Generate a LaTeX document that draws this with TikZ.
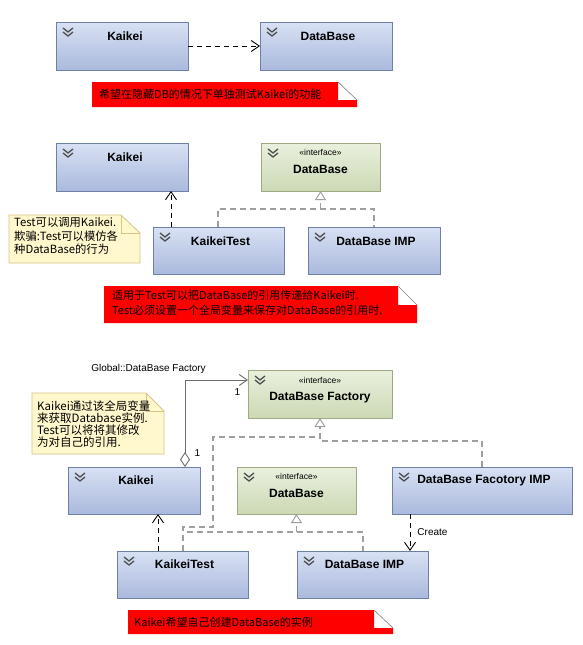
\documentclass[tikz,border=0pt]{standalone}
\usepackage{fontspec}
\setmainfont{Liberation Sans}
\newfontfamily\cjk{Noto Sans CJK SC}
\usetikzlibrary{arrows.meta,calc}
\definecolor{bluetop}{RGB}{216,225,244}
\definecolor{bluebot}{RGB}{170,185,220}
\definecolor{blueline}{RGB}{110,128,166}
\definecolor{greentop}{RGB}{233,240,222}
\definecolor{greenbot}{RGB}{204,217,180}
\definecolor{greenline}{RGB}{160,170,130}
\definecolor{notey}{RGB}{255,248,204}
\definecolor{noteline}{RGB}{214,196,136}
\definecolor{realgray}{RGB}{158,158,158}
\definecolor{chevc}{RGB}{78,78,78}
\definecolor{assocc}{RGB}{110,110,110}
\tikzset{
  clsbox/.style={rectangle, inner sep=0pt, outer sep=0pt, draw=blueline, line width=0.9pt, top color=bluetop, bottom color=bluebot},
  ifbox/.style={clsbox, draw=greenline, top color=greentop, bottom color=greenbot},
  clsname/.style={font=\bfseries\fontsize{12}{14}\selectfont, inner sep=0pt},
  stereo/.style={font=\fontsize{8.5}{10}\selectfont, inner sep=0pt},
  chevron/.style={draw=chevc, line width=1.3pt},
  notetext/.style={font=\cjk\fontsize{11}{13}\selectfont, inner sep=0pt, align=left},
  smalltext/.style={font=\fontsize{10}{12}\selectfont, inner sep=0pt},
  dep/.style={draw=black, line width=0.9pt, dash pattern=on 5pt off 4pt, -{Straight Barb[length=8pt,width=11pt,line width=0.9pt]}},
  real/.style={draw=realgray, line width=1.3pt, dash pattern=on 6pt off 4pt},
  realtri/.style={real, -{Triangle[open,length=9pt,width=11pt,line width=0.9pt,fill=white]}},
  assoc/.style={draw=assocc, line width=0.9pt, {Diamond[open,length=15pt,width=10pt,line width=0.9pt,fill=white]}-{Straight Barb[length=8pt,width=11pt,line width=0.9pt]}},
  rednote/.style={fill=red},
  yelnote/.style={fill=notey, draw=noteline, line width=0.8pt},
}
\newcommand\umlbox[6]{%
  \pgfmathsetmacro\ucx{(#3+#5)/2}%
  \pgfmathsetmacro\ucy{(#4+#6)/2}%
  \pgfmathsetmacro\ubw{#5-#3}%
  \pgfmathsetmacro\ubh{#6-#4}%
  \node[#1, minimum width=\ubw pt, minimum height=\ubh pt] (#2) at (\ucx,\ucy) {};
  \draw[chevron] ($(#2.north west)+(7,6)$) -- ++(5,4) -- ++(5,-4);
  \draw[chevron] ($(#2.north west)+(7,10)$) -- ++(5,4) -- ++(5,-4);
}
\begin{document}
\begin{tikzpicture}[x=1pt,y=-1pt]
\useasboundingbox (0,0) rectangle (582,645);
\fill[white] (0,0) rectangle (582,645);

% ---------------- diagram 1
\umlbox{clsbox}{k1}{56}{22}{188}{70}
\node[clsname] (k1t) at ($(k1.north)+(3,14.5)$) {Kaikei};
\umlbox{clsbox}{db1}{260}{22}{392}{70}
\node[clsname] (db1t) at ($(db1.north)+(2,14.5)$) {DataBase};
\draw[dep] (k1.east) -- (db1.west);

\fill[rednote] (92,82) -- (338,82) -- (338,100) -- (357,100) -- (357,107) -- (92,107) -- cycle;
\draw[gray, line width=0.6pt] (338,82) -- (357,100);
\node[notetext, anchor=west] (n1) at (99,94.5) {希望在隐藏DB的情况下单独测试Kaikei的功能};

% ---------------- diagram 2
\umlbox{clsbox}{k2}{56}{143}{188}{191}
\node[clsname] (k2t) at ($(k2.north)+(3,14)$) {Kaikei};
\umlbox{ifbox}{db2}{261}{143}{380}{191}
\node[stereo] (db2s) at ($(db2.north)+(0,9.5)$) {«interface»};
\node[clsname] (db2t) at ($(db2.north)+(0,26.5)$) {DataBase};
\umlbox{clsbox}{kt2}{153}{227}{284}{274}
\node[clsname] (kt2t) at ($(kt2.north)+(2,14)$) {KaikeiTest};
\umlbox{clsbox}{dbi2}{308}{227}{440}{274}
\node[clsname] (dbi2t) at ($(dbi2.north)+(2,14)$) {DataBase IMP};

\draw[dep] ($(kt2.north west)+(18,0)$) -- ($(k2.south west)+(115,0)$);
\draw[real] ($(kt2.north west)+(65,0)$) -- ++(0,-18) -| ($(dbi2.north west)+(66,0)$);
\draw[realtri] ($(db2.south)+(0,18)$) -- (db2.south);

\fill[yelnote] (9,215) -- (121,215) -- (140,233) -- (140,263) -- (9,263) -- cycle;
\draw[noteline, line width=0.8pt] (121,215) -- (121,233) -- (140,233);
\node[notetext, anchor=north west, font=\cjk\fontsize{11.3}{13.5}\selectfont] (n2) at (14,217.5) {Test可以调用Kaikei.\\欺骗:Test可以模仿各\\种DataBase的行为};

\fill[rednote] (104,286) -- (398,286) -- (398,305) -- (417,305) -- (417,323) -- (104,323) -- cycle;
\draw[gray, line width=0.6pt] (398,286) -- (417,305);
\node[notetext, anchor=north west, font=\cjk\fontsize{11}{15}\selectfont] (n3) at (112,290) {适用于Test可以把DataBase的引用传递给Kaikei时.\\Test必须设置一个全局变量来保存对DataBase的引用时.};

% ---------------- diagram 3
\umlbox{ifbox}{dbf}{248}{370}{392}{418}
\node[stereo] (dbfs) at ($(dbf.north)+(0,10)$) {«interface»};
\node[clsname] (dbft) at ($(dbf.north)+(0,27.5)$) {DataBase Factory};
\umlbox{clsbox}{k3}{68}{467}{200}{514}
\node[clsname] (k3t) at ($(k3.north)+(2,13.5)$) {Kaikei};
\umlbox{ifbox}{db3}{237}{467}{356}{514}
\node[stereo] (db3s) at ($(db3.north)+(0,9.5)$) {«interface»};
\node[clsname] (db3t) at ($(db3.north)+(0,26.5)$) {DataBase};
\umlbox{clsbox}{dbfi}{392}{467}{572}{514}
\node[clsname] (dbfit) at ($(dbfi.north)+(2,13.5)$) {DataBase Facotory IMP};
\umlbox{clsbox}{kt3}{117}{551}{248}{598}
\node[clsname] (kt3t) at ($(kt3.north)+(2,13.5)$) {KaikeiTest};
\umlbox{clsbox}{dbi3}{297}{551}{428}{598}
\node[clsname] (dbi3t) at ($(dbi3.north)+(2,13.5)$) {DataBase IMP};

\draw[assoc] ($(k3.north west)+(117,0)$) |- ($(dbf.north west)+(0,10)$);
\node[smalltext] (glob) at (148.5,369) {Global::DataBase Factory};
\node[smalltext] (m1) at (237.5,392) {1};
\node[smalltext] (m2) at (197.5,453) {1};

\draw[dep] ($(kt3.north west)+(41,0)$) -- ($(k3.south west)+(90,0)$);
\draw[real] ($(kt3.north west)+(66,0)$) -- ++(0,-24) -- ++(30,0) |- ($(dbf.south)+(0,19)$);
\draw[realtri] ($(dbfi.north west)+(90,0)$) |- ($(dbf.south)+(0,23)$) -- (dbf.south);
\draw[real] ($(kt3.north west)+(70,-19)$) -- ($(dbi3.north west)+(66,-19)$) -- ($(dbi3.north west)+(66,0)$);
\draw[realtri] ($(db3.south)+(0,18)$) -- (db3.south);
\draw[dep] ($(dbfi.south west)+(18,0)$) -- ($(dbi3.north west)+(113,0)$) node[smalltext, midway, anchor=west, xshift=7pt] (cr) {Create};

\fill[yelnote] (32,393) -- (146,393) -- (164,411) -- (164,454) -- (32,454) -- cycle;
\draw[noteline, line width=0.8pt] (146,393) -- (146,411) -- (164,411);
\node[notetext, anchor=north west, font=\cjk\fontsize{11.5}{11.8}\selectfont] (n4) at (37,401) {Kaikei通过该全局变量\\来获取Database实例.\\Test可以将将其修改\\为对自己的引用.};

\fill[rednote] (128,610) -- (374,610) -- (374,628) -- (393,628) -- (393,634) -- (128,634) -- cycle;
\draw[gray, line width=0.6pt] (374,610) -- (393,628);
\node[notetext, anchor=west] (n5) at (134,622) {Kaikei希望自己创建DataBase的实例};
\end{tikzpicture}
\end{document}
